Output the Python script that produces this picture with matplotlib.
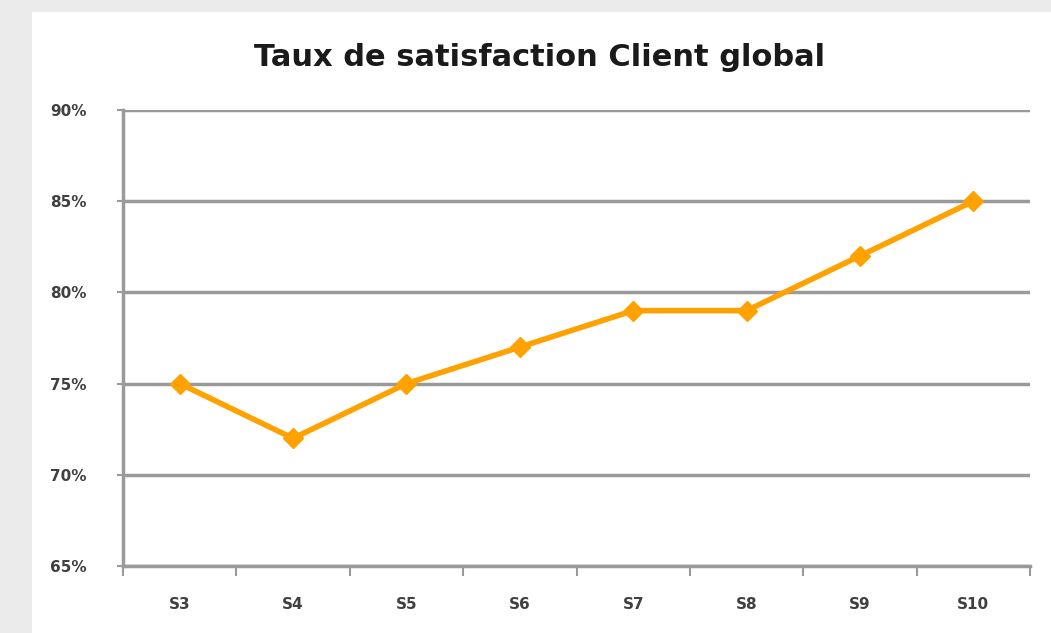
import matplotlib.pyplot as plt
import matplotlib.patches as patches
import numpy as np

semaines = ['S3', 'S4', 'S5', 'S6', 'S7', 'S8', 'S9', 'S10']
satisfaction = [75, 72, 75, 77, 79, 79, 82, 85]
y_ticks = [65, 70, 75, 80, 85, 90]

fig = plt.figure(figsize=(10.51, 6.33), dpi=100, facecolor='#ebebeb')

# white chart panel on the grey background
fig.patches.append(patches.Rectangle((32/1051, 0), 1 - 32/1051, 1 - 12/633,
                                     transform=fig.transFigure, facecolor='white',
                                     edgecolor='none', zorder=-5))

ax = fig.add_axes([123/1051, 1 - 566/633, (1030 - 123)/1051, (566 - 110)/633])
ax.set_facecolor('none')
ax.set_zorder(2)

x = np.arange(len(semaines))
ax.plot(x, satisfaction, color='#ffa200', lw=4, marker='D', ms=10,
        mec='#ffa200', mfc='#ffa200', zorder=3, clip_on=False)

ax.set_xlim(-0.5, len(semaines) - 0.5)
ax.set_ylim(65, 90)
ax.set_yticks(y_ticks)
ax.set_yticklabels([f'{v}%' for v in y_ticks])
ax.set_xticks(x)
ax.set_xticklabels(semaines)
ax.set_xticks(np.arange(len(semaines) + 1) - 0.5, minor=True)

ax.grid(axis='y', color='#9a9a9a', lw=2.5, zorder=1)
ax.set_axisbelow(True)
for s in ['top', 'right']:
    ax.spines[s].set_visible(False)
for s in ['left', 'bottom']:
    ax.spines[s].set_color('#9a9a9a')
    ax.spines[s].set_linewidth(2.5)

ax.tick_params(axis='x', which='major', length=0, pad=22, labelsize=11, labelcolor='#404040')
ax.tick_params(axis='x', which='minor', length=7, width=1.5, color='#9a9a9a', direction='out')
ax.tick_params(axis='y', length=4, width=1.5, color='#9a9a9a', pad=22, labelsize=11,
               labelcolor='#404040')
for lab in ax.get_xticklabels() + ax.get_yticklabels():
    lab.set_fontweight('bold')

fig.text(540/1051, 1 - 57/633, 'Taux de satisfaction Client global', ha='center',
         va='center', fontsize=22, color='#1a1a1a', fontweight='bold')

fig.savefig('out.png', dpi=100, facecolor=fig.get_facecolor())
